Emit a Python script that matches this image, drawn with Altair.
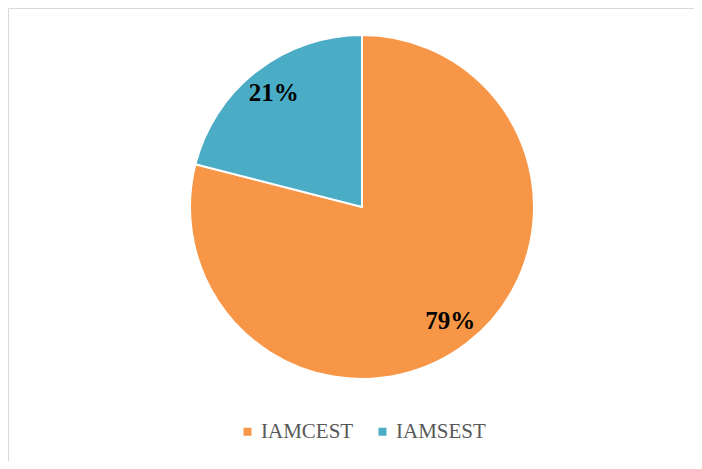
import altair as alt
import pandas as pd

categories = ["IAMCEST", "IAMSEST"]
values = [79, 21]
labels = ["79%", "21%"]
colors = ["#F79646", "#4BACC6"]

df = pd.DataFrame({"cat": categories, "val": values, "label": labels, "order": [0, 1]})

CX, CY = 354, 199

base = alt.Chart(df).encode(
    theta=alt.Theta("val:Q", stack=True),
    order=alt.Order("order:Q"),
)

pie = base.mark_arc(outerRadius=172, stroke="white", strokeWidth=2).encode(
    x=alt.value(CX),
    y=alt.value(CY),
    color=alt.Color(
        "cat:N",
        scale=alt.Scale(domain=categories, range=colors),
        legend=alt.Legend(
            title=None,
            orient="none",
            direction="horizontal",
            legendX=229,
            legendY=413,
            symbolType="square",
            symbolSize=64,
            symbolStrokeWidth=0,
            labelFont="Liberation Serif",
            labelFontSize=21,
            labelColor="#595959",
            labelOffset=3,
            columnPadding=18,
        ),
    ),
)

text = base.mark_text(
    radius=144, font="Liberation Serif", fontSize=25, fontWeight="bold", color="black"
).encode(x=alt.value(CX), y=alt.value(CY), text="label:N")

chart = (
    alt.layer(pie, text)
    .properties(width=686, height=453, padding=0, autosize=alt.AutoSizeParams(type="none"))
    .configure_view(stroke="#D9D9D9", strokeWidth=1)
)

chart.save("out.html", embed_options={"renderer": "svg", "actions": False})
